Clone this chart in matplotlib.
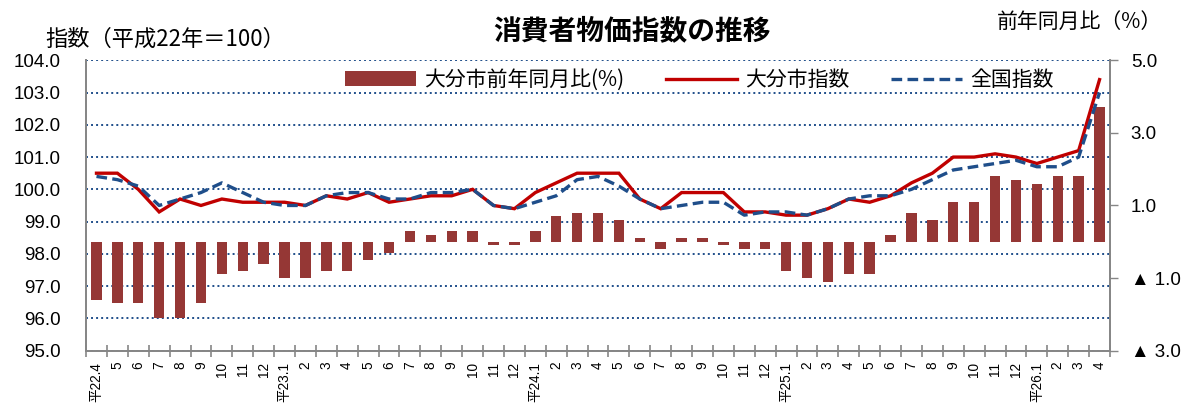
import numpy as np
import matplotlib
matplotlib.use("Agg")
import matplotlib.pyplot as plt
from matplotlib.ticker import FixedLocator, FormatStrFormatter

plt.rcParams["font.family"] = ["Liberation Sans", "Noto Sans CJK JP", "DejaVu Sans"]
JP = ["Noto Sans CJK JP", "DejaVu Sans"]

# ----------------------
# データ（平成22年4月～平成26年4月）
# ----------------------
months = ["平22.4", "5", "6", "7", "8", "9", "10", "11", "12",
          "平23.1", "2", "3", "4", "5", "6", "7", "8", "9", "10", "11", "12",
          "平24.1", "2", "3", "4", "5", "6", "7", "8", "9", "10", "11", "12",
          "平25.1", "2", "3", "4", "5", "6", "7", "8", "9", "10", "11", "12",
          "平26.1", "2", "3", "4"]

# 大分市前年同月比(%)
oita_yoy = [-1.6, -1.7, -1.7, -2.1, -2.1, -1.7, -0.9, -0.8, -0.6,
            -1.0, -1.0, -0.8, -0.8, -0.5, -0.3, 0.3, 0.2, 0.3, 0.3, -0.1, -0.1,
            0.3, 0.7, 0.8, 0.8, 0.6, 0.1, -0.2, 0.1, 0.1, -0.1, -0.2, -0.2,
            -0.8, -1.0, -1.1, -0.9, -0.9, 0.2, 0.8, 0.6, 1.1, 1.1, 1.8, 1.7,
            1.6, 1.8, 1.8, 3.7]

# 大分市指数
oita_index = [100.5, 100.5, 100.0, 99.3, 99.7, 99.5, 99.7, 99.6, 99.6,
              99.6, 99.5, 99.8, 99.7, 99.9, 99.6, 99.7, 99.8, 99.8, 100.0, 99.5, 99.4,
              99.9, 100.2, 100.5, 100.5, 100.5, 99.7, 99.4, 99.9, 99.9, 99.9, 99.3, 99.3,
              99.2, 99.2, 99.4, 99.7, 99.6, 99.8, 100.2, 100.5, 101.0, 101.0, 101.1, 101.0,
              100.8, 101.0, 101.2, 103.4]

# 全国指数
japan_index = [100.4, 100.3, 100.1, 99.5, 99.7, 99.9, 100.2, 99.9, 99.6,
               99.5, 99.5, 99.8, 99.9, 99.9, 99.7, 99.7, 99.9, 99.9, 100.0, 99.5, 99.4,
               99.6, 99.8, 100.3, 100.4, 100.1, 99.7, 99.4, 99.5, 99.6, 99.6, 99.2, 99.3,
               99.3, 99.2, 99.4, 99.7, 99.8, 99.8, 100.0, 100.3, 100.6, 100.7, 100.8, 100.9,
               100.7, 100.7, 101.0, 103.0]

right_ticks = [-3, -1, 1, 3, 5]
right_labels = ["▲ 3.0", "▲ 1.0", "1.0", "3.0", "5.0"]

bar_color = "#953735"
red_color = "#C00000"
blue_color = "#1F4E8A"
axis_gray = "#868686"

x = np.arange(len(months))

fig = plt.figure(figsize=(11.85, 4.03), dpi=100)
rect = [0.0726, 0.1298, 0.8641, 0.7207]

# 左軸（グリッド用）
ax = fig.add_axes(rect)
# 右軸（棒グラフ）
ax2 = ax.twinx()
# 折れ線用（左軸と同じ目盛）
ax3 = fig.add_axes(rect, sharex=ax, sharey=ax)
ax3.patch.set_visible(False)
ax3.axis("off")

ax.set_zorder(1)
ax2.set_zorder(2)
ax3.set_zorder(3)
ax2.patch.set_visible(False)

bars = ax2.bar(x, oita_yoy, width=0.5, color=bar_color, label="大分市前年同月比(%)")
l1, = ax3.plot(x, oita_index, color=red_color, lw=2.4, label="大分市指数",
               solid_joinstyle="miter")
l2, = ax3.plot(x, japan_index, color=blue_color, lw=2.4, dashes=(3.2, 1.6),
               label="全国指数")

ax.set_xlim(-0.5, len(months) - 0.5)
ax.set_ylim(95, 104)
ax2.set_ylim(-3, 5)

# 左軸
ax.set_yticks(np.arange(95, 104.1, 1))
ax.yaxis.set_major_formatter(FormatStrFormatter("%.1f"))
ax.tick_params(axis="y", length=0, pad=18, labelsize=13.5)
ax.grid(axis="y", color=blue_color, linestyle=(0, (1, 1.6)), lw=1.4)
ax.set_axisbelow(True)

# 右軸
ax2.set_yticks(right_ticks)
ax2.set_yticklabels(right_labels)
ax2.tick_params(axis="y", length=6, width=1, color=axis_gray, pad=9, labelsize=13.5)

# x軸
ax.set_xticks(x)
ax.set_xticklabels(months, rotation=90, va="top", ha="center")
ax.xaxis.set_minor_locator(FixedLocator(np.arange(-0.5, len(months), 1)))
ax.tick_params(axis="x", which="major", length=0, pad=8, labelsize=9.8)
ax.tick_params(axis="x", which="minor", direction="inout", length=8, width=1.2,
               color=axis_gray)

for a in (ax, ax2):
    a.spines["top"].set_visible(False)
    for s in ("left", "right", "bottom"):
        a.spines[s].set_color(axis_gray)
        a.spines[s].set_linewidth(1.3)

ax3.legend(handles=[bars, l1, l2], loc="center", bbox_to_anchor=(0.599, 0.932),
           ncol=3, frameon=False, prop={"family": JP, "size": 15},
           handlelength=3.4, handletextpad=0.4, columnspacing=2.0)

fig.text(0.533, 0.922, "消費者物価指数の推移", ha="center", va="center",
         fontsize=20, fontweight="bold", family=JP)
fig.text(45 / 1185, 1 - 39 / 403, "指数（平成22年＝100）", ha="left", va="center",
         fontsize=16, family=JP)
fig.text(1162 / 1185, 1 - 22 / 403, "前年同月比（%）", ha="right", va="center",
         fontsize=15, family=JP)

fig.savefig("out.png", dpi=100)
